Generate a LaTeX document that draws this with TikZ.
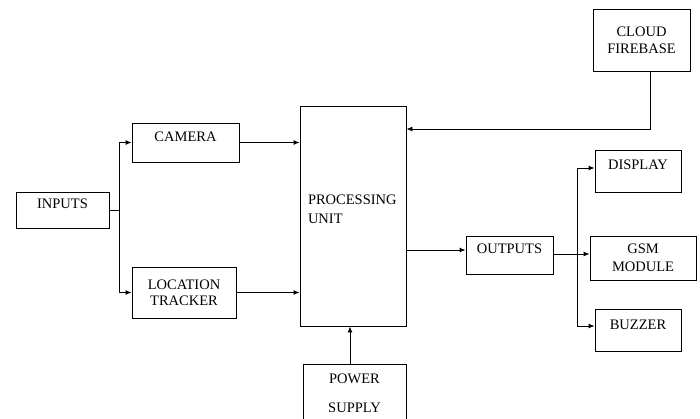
\documentclass[tikz,border=0pt]{standalone}
\usepackage{fontspec}
\setmainfont{Liberation Serif}
\usetikzlibrary{arrows.meta}

\begin{document}
\begin{tikzpicture}[x=1pt, y=-1pt, >={Latex[length=6pt,width=5pt]}, line width=0.9pt,
    box/.style={draw, inner sep=2pt},
    oneline/.style={box, font=\fontsize{14.5}{18}\selectfont, text height=10pt, text depth=12pt},
    twoline/.style={box, align=center, font=\fontsize{14.5}{#1}\selectfont}]
  \clip (0,0) rectangle (700,419);

  % inputs
  \node[oneline, minimum width=93pt, minimum height=36pt] (inputs) at (62.5,210) {INPUTS};
  \node[oneline, minimum width=107pt, minimum height=39pt] (camera) at (185.5,142.5) {CAMERA};
  \node[twoline=16, minimum width=104pt, minimum height=51pt] (tracker) at (184,292.5) {LOCATION\\TRACKER};

  % processing
  \node[box, align=left, text width=90pt, font=\fontsize{14.5}{19}\selectfont, text depth=33pt,
        minimum width=106pt, minimum height=220pt] (pu) at (353,216) {PROCESSING\\UNIT};
  \node[twoline=17, minimum width=97pt, minimum height=62pt] (cloud) at (641.5,40) {CLOUD\\FIREBASE};
  \node[twoline=29, minimum width=103pt, minimum height=58pt] (power) at (354.5,393) {POWER\\SUPPLY};

  % outputs
  \node[oneline, minimum width=87pt, minimum height=38pt] (outputs) at (509.5,255) {OUTPUTS};
  \node[oneline, minimum width=86pt, minimum height=42pt] (display) at (638,171) {DISPLAY};
  \node[twoline=18, minimum width=106pt, minimum height=44pt] (gsm) at (643,258) {GSM\\MODULE};
  \node[oneline, minimum width=86pt, minimum height=42pt] (buzzer) at (638,330) {BUZZER};

  \coordinate (fork) at (119,210);
  \coordinate (cloudbend) at (650,129);
  \coordinate (outfork) at (577,254);

  \draw (inputs.east) -- (fork);
  \draw[->] (fork) |- (camera.west);
  \draw[->] (fork) |- (tracker.west);
  \draw[->] (camera.east) -- (camera.east -| pu.west);
  \draw[->] (tracker.east) -- (tracker.east -| pu.west);

  \draw[->] (cloud.south -| cloudbend) -- (cloudbend) -- (cloudbend -| pu.east);
  \draw[->] (power.north -| 350,0) -- (pu.south -| 350,0);
  \draw[->] (pu.east |- 0,250) -- (outputs.west |- 0,250);

  \draw (outputs.east |- outfork) -- (outfork);
  \draw[->] (outfork) -- (outfork -| gsm.west);
  \draw[->] (outfork) |- (display.west |- 0,168);
  \draw[->] (outfork) |- (buzzer.west |- 0,326);
\end{tikzpicture}
\end{document}
